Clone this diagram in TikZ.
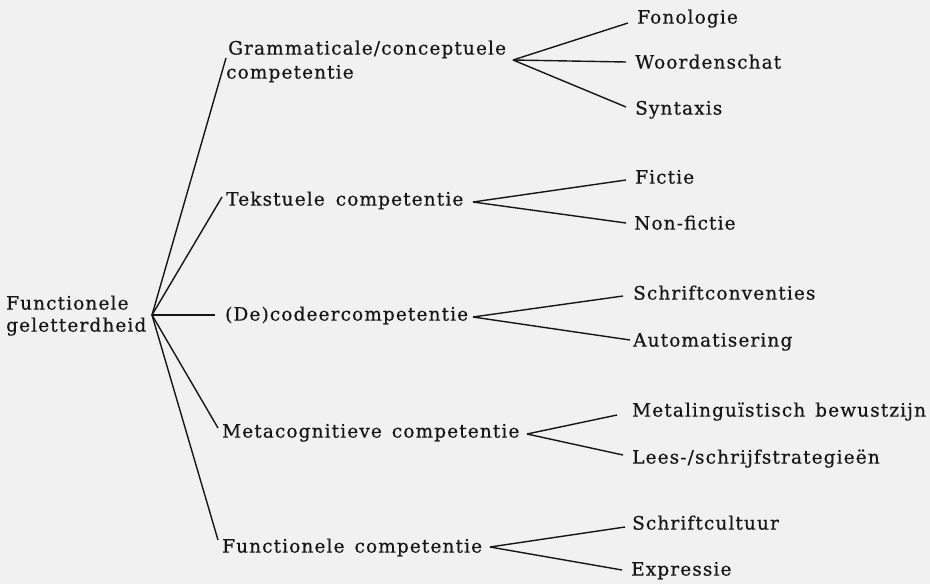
\documentclass[tikz,border=0pt]{standalone}
\usepackage{fontspec}
\setmainfont{DejaVu Serif}[LetterSpace=6,FakeBold=0.5]
\definecolor{paper}{RGB}{241,241,241}
\definecolor{ink}{RGB}{22,22,22}
\tikzset{
  lbl/.style={anchor=mid west, inner sep=0pt, text=ink, font=\fontsize{18.5}{22}\selectfont},
  conn/.style={draw=ink, line width=1.4pt},
}
\begin{document}
\begin{tikzpicture}[x=1pt,y=-1pt]
\useasboundingbox (0,0) rectangle (930,584);
\fill[paper] (0,0) rectangle (930,584);
% root
\node[lbl] (r1) at (6,307) {Functionele};
\node[lbl] (r2) at (6,329) {geletterdheid};
\coordinate (h) at (152,315);
% level 1
\node[lbl] (g1) at (228,52) {Grammaticale/conceptuele};
\node[lbl] (g2) at (226,76) {competentie};
\node[lbl] (t) at (226,203) {Tekstuele\hspace{4pt} competentie};
\node[lbl] (d) at (225,318) {(De)codeercompetentie};
\node[lbl] (m) at (222,435) {Metacognitieve\hspace{3pt} competentie};
\node[lbl] (f) at (222,550) {Functionele\hspace{3pt} competentie};
\coordinate (ge) at (226,58);
\coordinate (te) at (222,197);
\coordinate (de) at (215,315);
\coordinate (me) at (218,428);
\coordinate (fe) at (218,540);
\draw[conn] (h) -- (ge);
\draw[conn] (h) -- (te);
\draw[conn] (h) -- (de);
\draw[conn] (h) -- (me);
\draw[conn] (h) -- (fe);
% level 2
\node[lbl] (fon) at (637,21) {Fonologie};
\node[lbl] (wor) at (635,66) {Woordenschat};
\node[lbl] (syn) at (635,112) {Syntaxis};
\node[lbl] (fic) at (635,181) {Fictie};
\node[lbl] (non) at (634,227) {Non-fictie};
\node[lbl] (sco) at (633,297) {Schriftconventies};
\node[lbl] (aut) at (633,344) {Automatisering};
\node[lbl] (met) at (632,414) {Metalinguïstisch\hspace{3pt} bewustzijn};
\node[lbl] (lee) at (632,461) {Lees-/schrijfstrategieën};
\node[lbl] (scu) at (632,527) {Schriftcultuur};
\node[lbl] (exp) at (631,573) {Expressie};
\coordinate (gh) at (513,60);
\coordinate (th) at (473,202);
\coordinate (dh) at (473,317);
\coordinate (mh) at (527,434);
\coordinate (fh) at (490,547);
\coordinate (fon-e) at (628,23);
\coordinate (wor-e) at (626,62);
\coordinate (syn-e) at (626,107);
\coordinate (fic-e) at (626,180);
\coordinate (non-e) at (626,223);
\coordinate (sco-e) at (623,296);
\coordinate (aut-e) at (630,340);
\coordinate (met-e) at (617,415);
\coordinate (lee-e) at (623,455);
\coordinate (scu-e) at (625,527);
\coordinate (exp-e) at (622,570);
\draw[conn] (gh) -- (fon-e);
\draw[conn] (gh) -- (wor-e);
\draw[conn] (gh) -- (syn-e);
\draw[conn] (th) -- (fic-e);
\draw[conn] (th) -- (non-e);
\draw[conn] (dh) -- (sco-e);
\draw[conn] (dh) -- (aut-e);
\draw[conn] (mh) -- (met-e);
\draw[conn] (mh) -- (lee-e);
\draw[conn] (fh) -- (scu-e);
\draw[conn] (fh) -- (exp-e);
\end{tikzpicture}
\end{document}
